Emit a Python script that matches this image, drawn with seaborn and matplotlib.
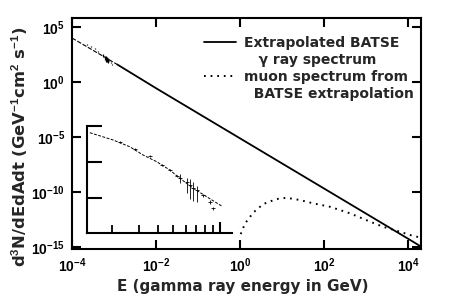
import numpy as np
import pandas as pd
import matplotlib
matplotlib.use("Agg")
import matplotlib.pyplot as plt
from matplotlib.ticker import FixedLocator, FuncFormatter, NullLocator, NullFormatter
from matplotlib.lines import Line2D
import seaborn as sns

# ---------------- data ----------------
# extrapolated BATSE gamma-ray spectrum (main panel)
gamma_E = [1e-4, 1.2e-3, 1e-2, 1e0, 1e2, 1e4, 2.04e4]
gamma_F = [1e4, 3.9e1, 2.75e-1, 7.6e-6, 2.1e-10, 5.75e-15, 1.1e-15]

# muon spectrum from BATSE extrapolation
muon_E = [1.04, 1.32, 2.09, 3.59, 7.41, 12.9, 26.9, 55.6, 138, 417, 1259, 2512, 6457, 11220, 17380]
muon_F = [1.5e-14, 1.4e-13, 1.4e-12, 8.1e-12, 2.3e-11, 3.0e-11, 1.86e-11, 9.3e-12, 4.6e-12,
          1.15e-12, 2.0e-13, 7.1e-14, 2.45e-14, 1.23e-14, 8.1e-15]

# inset: BATSE burst spectrum (fit curve and measured points)
fit_E = [1.45, 2.05, 2.62, 3.20, 3.91, 4.75, 5.52, 6.73, 8.20, 10.26]
fit_F = [0.652, 0.408, 0.266, 0.156, 0.102, 0.060, 0.0352, 0.0186, 0.0109, 0.0060]

pts_E = [2.26, 2.83, 3.53, 4.23, 4.75, 5.28, 5.52, 6.12, 6.40, 6.70, 7.11, 7.76, 8.61, 9.02]
pts_F = [0.363, 0.229, 0.148, 0.083, 0.060, 0.041, 0.036, 0.0275, 0.0229, 0.019, 0.0166,
         0.012, 0.0078, 0.0052]
pts_lo = [0.34, 0.215, 0.138, 0.078, 0.056, 0.038, 0.026, 0.0135, 0.0095, 0.0085, 0.0080,
          0.0108, 0.0070, 0.0047]
pts_hi = [0.39, 0.245, 0.158, 0.089, 0.064, 0.044, 0.046, 0.036, 0.033, 0.028, 0.021,
          0.0133, 0.0087, 0.0057]

# inset units -> main-panel units
E_SCALE = 1e-4
F_SCALE = 10 ** 3.85

x_ticks = [1e-4, 1e-2, 1e0, 1e2, 1e4]
y_ticks = [1e5, 1e0, 1e-5, 1e-10, 1e-15]

legend_labels = ["Extrapolated BATSE", "   \u03b3 ray spectrum", "muon spectrum from", "  BATSE extrapolation"]

# ---------------- style ----------------
sns.set_theme(style="ticks")
plt.rcParams["font.family"] = ["Liberation Sans", "DejaVu Sans"]
plt.rcParams["font.weight"] = "bold"
plt.rcParams["mathtext.fontset"] = "custom"
plt.rcParams["mathtext.rm"] = "Liberation Sans:bold"
plt.rcParams["mathtext.it"] = "Liberation Sans:bold:italic"
plt.rcParams["mathtext.bf"] = "Liberation Sans:bold"
plt.rcParams["axes.linewidth"] = 1.5

fig = plt.figure(figsize=(4.57, 3.0), dpi=100)
ax = fig.add_axes([72 / 457, 51 / 300, 349 / 457, 231 / 300])
ax.set_xscale("log")
ax.set_yscale("log")

df_g = pd.DataFrame({"E": gamma_E, "F": gamma_F})
sns.lineplot(data=df_g.iloc[:2], x="E", y="F", ax=ax, color="black", lw=0.8,
             linestyle=(0, (4, 1.5)), sort=False, estimator=None)
sns.lineplot(data=df_g.iloc[1:], x="E", y="F", ax=ax, color="black", lw=1.3,
             sort=False, estimator=None)

df_m = pd.DataFrame({"E": muon_E, "F": muon_F})
sns.lineplot(data=df_m, x="E", y="F", ax=ax, color="black", lw=1.4,
             linestyle=(0, (0.9, 2.5)), sort=False, estimator=None)

# BATSE data points in main panel
pE = np.array(pts_E) * E_SCALE
pF = np.array(pts_F) * F_SCALE
ax.errorbar(pE, pF, yerr=[pF - np.array(pts_lo) * F_SCALE, np.array(pts_hi) * F_SCALE - pF],
            fmt="none", ecolor="black", elinewidth=0.9)

ax.set_xlim(1e-4, 10 ** 4.31)
ax.set_ylim(10 ** -15.18, 10 ** 5.82)

def sci(v, pos):
    return r"$\mathregular{10^{%d}}$" % int(round(np.log10(v)))

ax.xaxis.set_major_locator(FixedLocator(x_ticks))
ax.yaxis.set_major_locator(FixedLocator(y_ticks))
ax.xaxis.set_major_formatter(FuncFormatter(sci))
ax.yaxis.set_major_formatter(FuncFormatter(sci))
ax.xaxis.set_minor_locator(NullLocator())
ax.yaxis.set_minor_locator(NullLocator())
ax.tick_params(which="major", direction="in", length=6.5, width=1.5, top=True, right=True,
               labelsize=10, pad=5, colors="black")
for lab in ax.get_xticklabels() + ax.get_yticklabels():
    lab.set_fontweight("bold")
for s in ax.spines.values():
    s.set_color("black")
    s.set_linewidth(1.5)

ax.set_xlabel("E (gamma ray energy in GeV)", fontsize=11, fontweight="bold",
              family="DejaVu Sans")
ax.set_ylabel(r"d$^3$N/dEdAdt (GeV$^{-1}$cm$^2$ s$^{-1}$)", fontsize=11.8,
              fontweight="bold", family="DejaVu Sans")
ax.yaxis.set_label_coords((30 - 72) / 349, 0.444)
ax.xaxis.set_label_coords((243 - 72) / 349, -0.132)

handles = [Line2D([], [], color="black", lw=1.3),
           Line2D([], [], linestyle="none"),
           Line2D([], [], color="black", lw=1.4, linestyle=(0, (0.9, 2.5))),
           Line2D([], [], linestyle="none")]
leg = ax.legend(handles, legend_labels, loc="upper right", frameon=False,
                bbox_to_anchor=(414 / 457, 1 - 36 / 300), bbox_transform=fig.transFigure,
                prop={"weight": "bold", "size": 10, "family": "DejaVu Sans"},
                handlelength=2.3, handletextpad=0.6,
                labelspacing=0.22, borderpad=0, borderaxespad=0)

# ---------------- inset ----------------
axi = fig.add_axes([87 / 457, 67 / 300, 145 / 457, 107 / 300])
axi.set_xscale("log")
axi.set_yscale("log")
axi.patch.set_alpha(0)
df_f = pd.DataFrame({"E": fit_E, "F": fit_F})
sns.lineplot(data=df_f, x="E", y="F", ax=axi, color="black", lw=0.7,
             linestyle=(0, (3, 1.5)), sort=False, estimator=None)
eF = np.array(pts_F)
axi.errorbar(pts_E, pts_F, yerr=[eF - np.array(pts_lo), np.array(pts_hi) - eF],
             xerr=[np.array(pts_E) * 0.03, np.array(pts_E) * 0.03],
             fmt="none", ecolor="black", elinewidth=0.6)
axi.set_xlim(1.39, 11.95)
axi.set_ylim(10 ** -2.97, 1.0)
axi.set_xlabel("")
axi.set_ylabel("")
axi.spines["top"].set_visible(False)
axi.spines["right"].set_visible(False)
for s in ["left", "bottom"]:
    axi.spines[s].set_linewidth(1.5)
    axi.spines[s].set_color("black")
axi.xaxis.set_major_locator(FixedLocator([10]))
axi.xaxis.set_minor_locator(FixedLocator([2, 3, 4, 5, 6, 7, 8, 9]))
axi.yaxis.set_major_locator(FixedLocator([1.0, 0.1, 0.01]))
axi.yaxis.set_minor_locator(NullLocator())
axi.xaxis.set_major_formatter(NullFormatter())
axi.xaxis.set_minor_formatter(NullFormatter())
axi.yaxis.set_major_formatter(NullFormatter())
axi.tick_params(axis="x", which="major", direction="in", length=8, width=1.5, colors="black")
axi.tick_params(axis="x", which="minor", direction="in", length=6, width=1.3, colors="black")
axi.tick_params(axis="y", which="major", direction="in", length=11, width=1.5, colors="black")

fig.savefig("out.png", dpi=100)
